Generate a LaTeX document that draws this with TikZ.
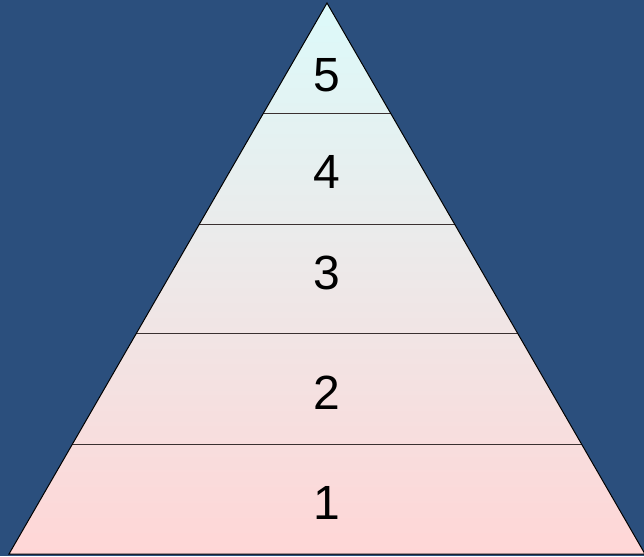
\documentclass[tikz,border=0pt]{standalone}
\usepackage{fontspec}
\setmainfont{Liberation Sans}
\definecolor{bg}{HTML}{2B4F7D}
\definecolor{topc}{HTML}{DCFAFA}
\definecolor{botc}{HTML}{FFD6D6}
\definecolor{divc}{HTML}{3A3030}
\begin{document}
\begin{tikzpicture}[x=1pt,y=-1pt,
  lvl/.style={font=\fontsize{48}{48}\selectfont, text=black, inner sep=0pt, anchor=center},
  divider/.style={draw=divc, line width=0.9pt}]
\fill[bg] (0,0) rectangle (644,556);
\useasboundingbox (0,0) rectangle (644,556);
\coordinate (apex) at (327,3);
\coordinate (bl) at (9,554);
\coordinate (br) at (645,554);
\begin{scope}
\clip (apex) -- (bl) -- (br) -- cycle;
\shade[top color=topc, bottom color=botc, shading=axis] (0,3) rectangle (644,556);
\end{scope}
% dividers
\foreach \y/\n in {113/a,224/b,333/c,444/d}{
  \pgfmathsetmacro{\hw}{(\y-3)*0.57735}
  \coordinate (l\n) at ({327-\hw},\y);
  \coordinate (r\n) at ({327+\hw},\y);
  \draw[divider] (l\n) -- (r\n);
}
\draw[draw=black, line width=1pt, line join=miter] (apex) -- (bl) -- (br) -- cycle;
\node[lvl] (n5) at (327,75) {5};
\node[lvl] (n4) at (327,172) {4};
\node[lvl] (n3) at (327,273) {3};
\node[lvl] (n2) at (327,393) {2};
\node[lvl] (n1) at (327,503) {1};
\end{tikzpicture}
\end{document}
